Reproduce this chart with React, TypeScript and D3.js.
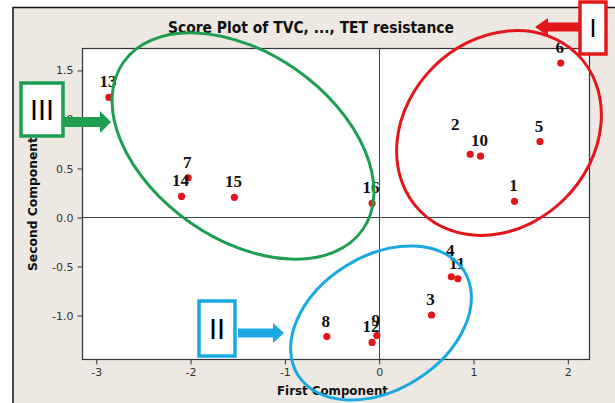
import React, { useEffect, useRef } from 'react';
import * as d3 from 'd3';

// PCA scores
const sampleIds = ['1', '2', '3', '4', '5', '6', '7', '8', '9', '10', '11', '12', '13', '14', '15', '16'];
const firstComponent = [1.44, 0.97, 0.56, 0.77, 1.71, 1.93, -2.02, -0.55, -0.02, 1.08, 0.84, -0.07, -2.86, -2.09, -1.53, -0.07];
const secondComponent = [0.16, 0.64, -1.0, -0.61, 0.77, 1.57, 0.4, -1.22, -1.21, 0.62, -0.63, -1.28, 1.22, 0.21, 0.2, 0.14];
const xTickValues = [-3, -2, -1, 0, 1, 2];
const yTickValues = [-1.0, -0.5, 0.0, 0.5, 1.0, 1.5];

const W = 615;
const H = 403;

const App = () => {
  const svgRef = useRef<SVGSVGElement>(null);

  useEffect(() => {
    const svg = d3.select(svgRef.current);
    svg.selectAll('*').remove();

    const plot = { left: 82, top: 48, right: 589, bottom: 359 };
    const x = d3.scaleLinear().domain([-3.146, 2.23]).range([plot.left, plot.right]);
    const y = d3.scaleLinear().domain([-1.449, 1.724]).range([plot.bottom, plot.top]);

    // background + frame
    svg.append('rect').attr('width', W).attr('height', H).attr('fill', '#fff');
    svg.append('rect').attr('x', 13).attr('y', 7).attr('width', W - 13).attr('height', H - 7).attr('fill', '#EDE8E1');
    svg.append('path').attr('d', `M13,${H} V7.5 H${W}`).attr('fill', 'none').attr('stroke', '#111').attr('stroke-width', 1.5);

    svg.append('rect')
      .attr('x', plot.left + 0.5).attr('y', plot.top + 0.5)
      .attr('width', plot.right - plot.left).attr('height', plot.bottom - plot.top)
      .attr('fill', '#fff').attr('stroke', '#333').attr('stroke-width', 1.2);

    // reference lines at zero
    svg.append('line')
      .attr('x1', Math.round(x(0)) + 0.5).attr('x2', Math.round(x(0)) + 0.5)
      .attr('y1', plot.top).attr('y2', plot.bottom)
      .attr('stroke', '#444').attr('stroke-width', 1);
    svg.append('line')
      .attr('x1', plot.left).attr('x2', plot.right)
      .attr('y1', Math.round(y(0)) + 0.5).attr('y2', Math.round(y(0)) + 0.5)
      .attr('stroke', '#444').attr('stroke-width', 1);

    // axes
    const xAxis = svg.append('g')
      .attr('transform', `translate(0.5,${plot.bottom + 0.5})`)
      .call(d3.axisBottom(x).tickValues(xTickValues).tickSize(5).tickPadding(4).tickFormat(d3.format('d')));
    const yAxis = svg.append('g')
      .attr('transform', `translate(${plot.left + 0.5},0.5)`)
      .call(d3.axisLeft(y).tickValues(yTickValues).tickSize(5).tickPadding(4).tickFormat(d3.format('.1f')));
    [xAxis, yAxis].forEach(ax => {
      ax.select('.domain').remove();
      ax.selectAll('line').attr('stroke', '#333');
      ax.selectAll('text')
        .attr('fill', '#333')
        .style('font-family', '"DejaVu Sans", Tahoma, sans-serif')
        .style('font-size', '11px')
        .text(function () { return d3.select(this).text().replace('−', '-'); });
    });

    // title and axis titles
    svg.append('text')
      .attr('x', 311).attr('y', 33)
      .attr('text-anchor', 'middle')
      .attr('textLength', 286).attr('lengthAdjust', 'spacingAndGlyphs')
      .style('font-family', '"DejaVu Sans", Tahoma, sans-serif')
      .style('font-weight', 'bold').style('font-size', '15px')
      .attr('fill', '#111')
      .text('Score Plot of TVC, ..., TET resistance');
    svg.append('text')
      .attr('x', 332.5).attr('y', 395)
      .attr('text-anchor', 'middle')
      .attr('textLength', 111).attr('lengthAdjust', 'spacingAndGlyphs')
      .style('font-family', '"DejaVu Sans", Tahoma, sans-serif')
      .style('font-weight', 'bold').style('font-size', '12.5px')
      .attr('fill', '#111')
      .text('First Component');
    svg.append('text')
      .attr('transform', 'translate(37,204) rotate(-90)')
      .attr('text-anchor', 'middle')
      .attr('textLength', 134).attr('lengthAdjust', 'spacingAndGlyphs')
      .style('font-family', '"DejaVu Sans", Tahoma, sans-serif')
      .style('font-weight', 'bold').style('font-size', '12.5px')
      .attr('fill', '#111')
      .text('Second Component');

    // points + labels
    const pts = sampleIds.map((id, i) => ({ id, px: firstComponent[i], py: secondComponent[i] }));
    // a couple of labels were nudged off their points in the original
    const nudge: Record<string, [number, number]> = { '2': [-14, -14], '4': [0, -11] };

    svg.append('g').selectAll('circle')
      .data(pts).enter().append('circle')
      .attr('cx', d => x(d.px)).attr('cy', d => y(d.py))
      .attr('r', 3.6).attr('fill', '#E3141A');

    svg.append('g').selectAll('text')
      .data(pts).enter().append('text')
      .attr('x', d => x(d.px) - 1 + (nudge[d.id] ? nudge[d.id][0] : 0))
      .attr('y', d => y(d.py) - 10 + (nudge[d.id] ? nudge[d.id][1] : 0))
      .attr('text-anchor', 'middle')
      .style('font-family', '"Liberation Serif", "Times New Roman", serif')
      .style('font-weight', 'bold').style('font-size', '17px')
      .attr('fill', '#111')
      .text(d => d.id);

    // cluster ellipses
    const ellipses = [
      { cx: 243, cy: 146, rx: 146, ry: 93, rot: 35, color: '#1E9E50' },
      { cx: 499, cy: 133, rx: 111, ry: 93, rot: -45, color: '#E3161C' },
      { cx: 381, cy: 323, rx: 98, ry: 67, rot: -32, color: '#1AA8E2' },
    ];
    svg.append('g').selectAll('ellipse')
      .data(ellipses).enter().append('ellipse')
      .attr('cx', d => d.cx).attr('cy', d => d.cy)
      .attr('rx', d => d.rx).attr('ry', d => d.ry)
      .attr('transform', d => `rotate(${d.rot},${d.cx},${d.cy})`)
      .attr('fill', 'none').attr('stroke', d => d.color).attr('stroke-width', 3);

    // callout boxes with arrows
    const arrow = (x0: number, x1: number, cy: number, shaft: number, headLen: number, headHalf: number, color: string) => {
      const dir = x1 > x0 ? 1 : -1;
      const hb = x1 - dir * headLen;
      const s = shaft / 2;
      svg.append('path')
        .attr('d', `M${x0},${cy - s} L${hb},${cy - s} L${hb},${cy - headHalf} L${x1},${cy} L${hb},${cy + headHalf} L${hb},${cy + s} L${x0},${cy + s} Z`)
        .attr('fill', color);
    };
    const box = (bx: number, by: number, bw: number, bh: number, color: string, label: string, size: number) => {
      svg.append('rect')
        .attr('x', bx).attr('y', by).attr('width', bw).attr('height', bh)
        .attr('fill', '#fff').attr('stroke', color).attr('stroke-width', 3.5);
      svg.append('text')
        .attr('x', bx + bw / 2).attr('y', by + bh / 2)
        .attr('text-anchor', 'middle').attr('dominant-baseline', 'central')
        .style('font-family', '"Liberation Sans", Arial, sans-serif')
        .style('font-size', `${size}px`)
        .attr('fill', '#000')
        .text(label);
    };

    arrow(581, 535, 27, 9, 13, 9, '#E3161C');
    box(580, 2, 26, 52, '#E3161C', 'I', 25);

    arrow(64, 111, 122, 10, 11, 11, '#1E9E50');
    box(21, 83, 42, 53, '#1E9E50', 'III', 29);

    arrow(238, 284, 333, 9, 11, 10, '#1AA8E2');
    box(199, 301, 36, 55, '#1AA8E2', 'II', 29);
  }, []);

  return (
    <svg
      ref={svgRef}
      width={W}
      height={H}
      viewBox={`0 0 ${W} ${H}`}
      style={{ position: 'absolute', left: 0, top: 0 }}
    />
  );
};

export default App;
